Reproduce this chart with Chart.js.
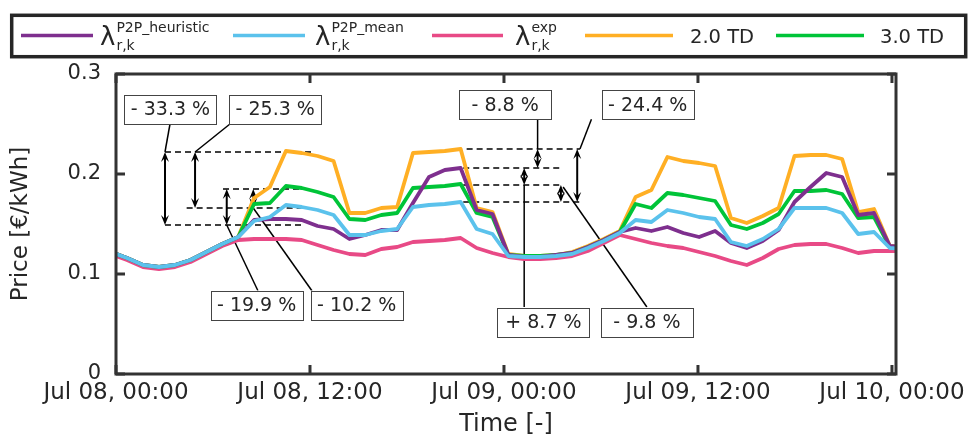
<!DOCTYPE html>
<html lang="en">
<head>
<meta charset="UTF-8">
<title>P2P price comparison</title>
<script src="https://cdn.jsdelivr.net/npm/chart.js"></script>
<style>
  body { margin: 0; background: #fff; }
  canvas { display: block; }
</style>
</head>
<body>
<canvas id="priceChart" width="973" height="438"></canvas>
<script>
// sample times in hours after Jul 08 00:00
const hours = [-0.31, 0.68, 1.67, 2.66, 3.65, 4.61, 5.59, 6.57, 7.56, 8.54, 9.52, 10.51, 11.49, 12.47, 13.46,
  14.44, 15.42, 16.41, 17.39, 18.37, 19.36, 20.34, 21.32, 22.31, 23.29, 24.27, 25.26, 26.24, 27.22, 28.21,
  29.19, 30.17, 31.16, 32.14, 33.12, 34.11, 35.09, 36.07, 37.06, 38.04, 39.02, 40.01, 40.99, 41.97, 42.96,
  43.94, 44.92, 45.91, 46.89, 47.87, 48.86];

// prices in EUR/kWh
const heuristic = [0.122, 0.116, 0.109, 0.107, 0.109, 0.114, 0.122, 0.130, 0.137,
  0.154, 0.155, 0.155, 0.154, 0.148, 0.145, 0.135, 0.139, 0.144, 0.144, 0.171, 0.197, 0.204, 0.206, 0.164, 0.160,
  0.119, 0.117, 0.117, 0.119, 0.121, 0.127, 0.134, 0.142, 0.146, 0.143, 0.147, 0.141, 0.137, 0.143, 0.131, 0.126,
  0.133, 0.144, 0.172, 0.187, 0.201, 0.197, 0.159, 0.161, 0.128, 0.127];
const mean = [0.122, 0.116, 0.109, 0.107, 0.109, 0.114, 0.122, 0.130, 0.137,
  0.153, 0.157, 0.169, 0.167, 0.164, 0.159, 0.139, 0.139, 0.143, 0.145, 0.167, 0.169, 0.170, 0.172, 0.145, 0.140,
  0.118, 0.117, 0.117, 0.118, 0.120, 0.126, 0.133, 0.141, 0.154, 0.152, 0.164, 0.161, 0.157, 0.155, 0.132, 0.128,
  0.135, 0.145, 0.166, 0.166, 0.166, 0.161, 0.140, 0.142, 0.126, 0.125];
const expPrice = [0.120, 0.114, 0.107, 0.105, 0.107, 0.112, 0.120, 0.128, 0.134,
  0.135, 0.135, 0.135, 0.134, 0.129, 0.124, 0.120, 0.119, 0.125, 0.127, 0.132, 0.133, 0.134, 0.136, 0.126, 0.121,
  0.117, 0.115, 0.115, 0.116, 0.118, 0.123, 0.131, 0.139, 0.135, 0.131, 0.128, 0.126, 0.122, 0.118, 0.113, 0.109,
  0.116, 0.125, 0.129, 0.130, 0.130, 0.126, 0.121, 0.123, 0.123, 0.123];
const td2 = [0.122, 0.116, 0.109, 0.107, 0.109, 0.114, 0.122, 0.130, 0.137,
  0.176, 0.187, 0.223, 0.221, 0.218, 0.213, 0.161, 0.161, 0.166, 0.167, 0.221, 0.222, 0.223, 0.225, 0.166, 0.162,
  0.120, 0.118, 0.118, 0.119, 0.122, 0.128, 0.135, 0.143, 0.177, 0.184, 0.217, 0.213, 0.211, 0.208, 0.156, 0.151,
  0.158, 0.166, 0.218, 0.219, 0.219, 0.215, 0.162, 0.165, 0.128, 0.127];
const td3 = [0.122, 0.116, 0.109, 0.107, 0.109, 0.114, 0.122, 0.130, 0.137,
  0.170, 0.171, 0.188, 0.186, 0.182, 0.177, 0.155, 0.154, 0.159, 0.161, 0.186, 0.187, 0.188, 0.190, 0.161, 0.157,
  0.119, 0.118, 0.118, 0.119, 0.121, 0.127, 0.134, 0.142, 0.170, 0.166, 0.181, 0.179, 0.176, 0.173, 0.149, 0.145,
  0.151, 0.160, 0.183, 0.183, 0.184, 0.180, 0.156, 0.157, 0.127, 0.126];

const tickHours = [0, 12, 24, 36, 48];
const tickLabels = ['Jul 08, 00:00', 'Jul 08, 12:00', 'Jul 09, 00:00', 'Jul 09, 12:00', 'Jul 10, 00:00'];
const yTicks = [0, 0.1, 0.2, 0.3];
const yTickLabels = ['0', '0.1', '0.2', '0.3'];

// annotations, in axis units (hours, price)
const dashLines = [ // x0, x1, y
  [3.03, 12.10, 0.222], [6.62, 12.0, 0.185], [4.37, 11.56, 0.166], [3.03, 11.56, 0.149],
  [21.69, 28.7, 0.225], [21.48, 27.66, 0.206], [21.48, 27.56, 0.189], [21.48, 28.7, 0.172]
];
const arrows = [ // x, yTop, yBottom
  [3.03, 0.222, 0.149], [4.89, 0.222, 0.166], [6.85, 0.185, 0.149], [8.49, 0.185, 0.166],
  [26.08, 0.225, 0.206], [25.25, 0.206, 0.189], [27.52, 0.189, 0.172], [28.53, 0.225, 0.172]
];
const leaders = [ // x0, y0, x1, y1
  [3.34, 0.250, 3.03, 0.222], [7.05, 0.250, 4.89, 0.222], [8.78, 0.0833, 6.85, 0.149], [12.12, 0.0833, 8.49, 0.166],
  [26.08, 0.2547, 26.08, 0.225], [29.41, 0.2547, 28.7, 0.225], [25.25, 0.067, 25.25, 0.189], [32.84, 0.067, 27.66, 0.187]
];
const boxes = [ // text, center x, center y
  ['- 33.3 %', 3.37, 0.2645], ['- 25.3 %', 9.85, 0.2645], ['- 19.9 %', 8.70, 0.069], ['- 10.2 %', 14.89, 0.069],
  ['- 8.8 %', 24.07, 0.269], ['- 24.4 %', 32.89, 0.269], ['+ 8.7 %', 26.44, 0.052], ['- 9.8 %', 32.84, 0.052]
];

const FONT = '"DejaVu Sans", Verdana, sans-serif';
const INK = '#262626';
const colors = { heuristic: '#7E2F8E', mean: '#5BC2EC', exp: '#E84A86', td2: '#FFAF24', td3: '#00C438' };

function series(values) {
  return values.map((v, i) => ({ x: hours[i], y: v }));
}

function arrowHead(ctx, x, y, dir) {
  // tip at (x, y); dir -1 points up, 1 points down
  const L = 10, W = 4;
  ctx.beginPath();
  ctx.moveTo(x, y);
  ctx.lineTo(x - W, y - dir * L);
  ctx.lineTo(x, y - dir * L * 0.6);
  ctx.lineTo(x + W, y - dir * L);
  ctx.closePath();
  ctx.fill();
}

const annotations = {
  id: 'annotations',
  beforeDatasetsDraw(chart) {
    const { ctx, scales: { x, y } } = chart;
    ctx.save();
    ctx.strokeStyle = '#000';
    ctx.fillStyle = '#000';
    ctx.lineWidth = 1.5;
    ctx.setLineDash([6, 4]);
    dashLines.forEach(([x0, x1, v]) => {
      ctx.beginPath();
      ctx.moveTo(x.getPixelForValue(x0), y.getPixelForValue(v));
      ctx.lineTo(x.getPixelForValue(x1), y.getPixelForValue(v));
      ctx.stroke();
    });
    ctx.setLineDash([]);
    leaders.forEach(([x0, y0, x1, y1]) => {
      ctx.beginPath();
      ctx.moveTo(x.getPixelForValue(x0), y.getPixelForValue(y0));
      ctx.lineTo(x.getPixelForValue(x1), y.getPixelForValue(y1));
      ctx.stroke();
    });
    ctx.lineWidth = 2;
    arrows.forEach(([xv, y0, y1]) => {
      const px = x.getPixelForValue(xv);
      const top = y.getPixelForValue(y0), bot = y.getPixelForValue(y1);
      ctx.beginPath();
      ctx.moveTo(px, top + 4);
      ctx.lineTo(px, bot - 4);
      ctx.stroke();
      arrowHead(ctx, px, top, -1);
      arrowHead(ctx, px, bot, 1);
    });
    ctx.restore();
  },
  afterDatasetsDraw(chart) {
    const { ctx, chartArea: a, scales: { x, y } } = chart;
    ctx.save();
    // text boxes
    ctx.font = '19px ' + FONT;
    ctx.textAlign = 'center';
    ctx.textBaseline = 'middle';
    boxes.forEach(([text, xv, yv]) => {
      const cx = x.getPixelForValue(xv), cy = y.getPixelForValue(yv);
      ctx.fillStyle = '#fff';
      ctx.fillRect(cx - 46, cy - 14.5, 92, 29);
      ctx.strokeStyle = '#444';
      ctx.lineWidth = 1;
      ctx.strokeRect(Math.round(cx - 46) + 0.5, Math.round(cy - 14.5) + 0.5, 92, 29);
      ctx.fillStyle = INK;
      ctx.fillText(text, cx, cy + 1);
    });
    // frame with inner ticks
    ctx.strokeStyle = '#333';
    ctx.lineWidth = 3;
    ctx.strokeRect(a.left, a.top, a.right - a.left, a.bottom - a.top);
    ctx.beginPath();
    tickHours.forEach(h => {
      const px = x.getPixelForValue(h);
      ctx.moveTo(px, a.bottom); ctx.lineTo(px, a.bottom - 9);
      ctx.moveTo(px, a.top); ctx.lineTo(px, a.top + 9);
    });
    yTicks.forEach(v => {
      const py = y.getPixelForValue(v);
      ctx.moveTo(a.left, py); ctx.lineTo(a.left + 9, py);
      ctx.moveTo(a.right, py); ctx.lineTo(a.right - 9, py);
    });
    ctx.stroke();
    ctx.restore();
  }
};

const legendBox = {
  id: 'legendBox',
  afterDraw(chart) {
    const ctx = chart.ctx;
    const items = [
      { ds: 0, x0: 21, x1: 93, tx: 100, sup: 'P2P_heuristic' },
      { ds: 1, x0: 233, x1: 305, tx: 315, sup: 'P2P_mean' },
      { ds: 2, x0: 432, x1: 503, tx: 515, sup: 'exp' },
      { ds: 3, x0: 585, x1: 673, tx: 690 },
      { ds: 4, x0: 776, x1: 864, tx: 880 }
    ];
    ctx.save();
    ctx.strokeStyle = INK;
    ctx.lineWidth = 3.5;
    ctx.strokeRect(11.7, 15.3, 954, 41.4);
    items.forEach(it => {
      const ds = chart.data.datasets[it.ds];
      ctx.strokeStyle = ds.borderColor;
      ctx.lineWidth = 3.5;
      ctx.beginPath();
      ctx.moveTo(it.x0, 35.5);
      ctx.lineTo(it.x1, 35.5);
      ctx.stroke();
      ctx.fillStyle = INK;
      ctx.textAlign = 'left';
      ctx.textBaseline = 'alphabetic';
      if (it.sup) {
        ctx.font = '26px ' + FONT;
        ctx.fillText('λ', it.tx, 45);
        const w = ctx.measureText('λ').width;
        ctx.font = '14px ' + FONT;
        ctx.fillText(it.sup, it.tx + w + 1, 31.5);
        ctx.fillText('r,k', it.tx + w + 1, 50);
      } else {
        ctx.font = '19.5px ' + FONT;
        ctx.fillText(ds.label, it.tx, 43);
      }
    });
    ctx.restore();
  }
};

new Chart(document.getElementById('priceChart'), {
  type: 'line',
  data: {
    datasets: [
      { label: 'λ P2P_heuristic', data: series(heuristic), borderColor: colors.heuristic, order: 1 },
      { label: 'λ P2P_mean', data: series(mean), borderColor: colors.mean, order: 0 },
      { label: 'λ exp', data: series(expPrice), borderColor: colors.exp, order: 4 },
      { label: '2.0 TD', data: series(td2), borderColor: colors.td2, order: 3 },
      { label: '3.0 TD', data: series(td3), borderColor: colors.td3, order: 2 }
    ]
  },
  options: {
    responsive: false,
    animation: false,
    layout: { padding: { top: 74, right: 77, left: 0, bottom: 0 } },
    elements: {
      line: { borderWidth: 3.8, tension: 0, borderJoinStyle: 'round', borderCapStyle: 'round' },
      point: { radius: 0 }
    },
    plugins: { legend: { display: false }, tooltip: { enabled: false } },
    scales: {
      x: {
        type: 'linear',
        min: 0,
        max: 48.25,
        afterFit: s => { s.height = 64; },
        afterBuildTicks: s => { s.ticks = tickHours.map(v => ({ value: v })); },
        grid: { display: false, drawTicks: false },
        border: { display: false },
        ticks: {
          autoSkip: false,
          maxRotation: 0,
          padding: 5,
          color: INK,
          font: { family: FONT, size: 23 },
          callback: (v) => tickLabels[tickHours.indexOf(v)]
        },
        title: { display: true, text: 'Time [-]', color: INK, font: { family: FONT, size: 24, lineHeight: 1 }, padding: { top: 0, bottom: 1 } }
      },
      y: {
        min: 0,
        max: 0.3,
        afterFit: s => { s.width = 116; },
        afterBuildTicks: s => { s.ticks = yTicks.map(v => ({ value: v })); },
        grid: { display: false, drawTicks: false },
        border: { display: false },
        ticks: {
          padding: 15,
          color: INK,
          font: { family: FONT, size: 21 },
          callback: (v) => yTickLabels[yTicks.indexOf(v)]
        },
        title: { display: true, text: 'Price [€/kWh]', color: INK, font: { family: FONT, size: 23, lineHeight: 1 }, padding: { top: 10, bottom: 0 } }
      }
    }
  },
  plugins: [annotations, legendBox]
});
</script>
</body>
</html>
